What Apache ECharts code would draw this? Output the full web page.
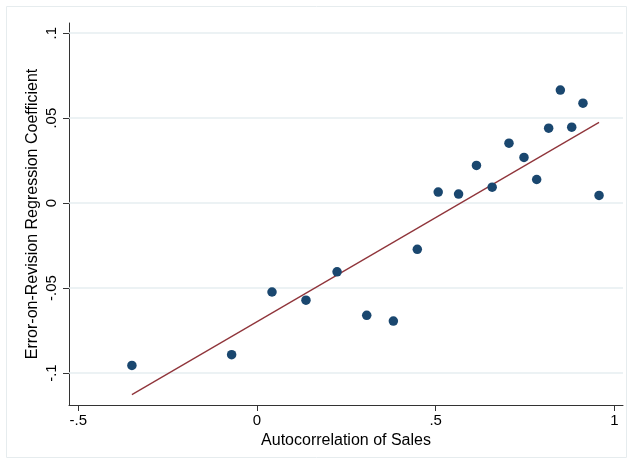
<!DOCTYPE html>
<html>
<head>
<meta charset="utf-8">
<script src="https://cdn.jsdelivr.net/npm/echarts@6/dist/echarts.min.js"></script>
<style>html,body{margin:0;padding:0;background:#fff}#c{width:633px;height:464px}</style>
</head>
<body>
<div id="c"></div>
<script>
// Scatter points: autocorrelation of sales (x) vs error-on-revision coefficient (y)
const autocorr = [-0.35, -0.071, 0.042, 0.137, 0.224, 0.307, 0.3815, 0.4485, 0.507, 0.564,
                  0.614, 0.658, 0.705, 0.747, 0.7825, 0.816, 0.8487, 0.8805, 0.912, 0.957];
const coef = [-0.0955, -0.0892, -0.0523, -0.0571, -0.0404, -0.066, -0.0694, -0.0272, 0.0065, 0.0053,
              0.0222, 0.0094, 0.0353, 0.0269, 0.0139, 0.0441, 0.0665, 0.0447, 0.0588, 0.0045];
// Fitted line endpoints
const fitX = [-0.35, 0.957];
const fitY = [-0.1127, 0.0475];
// Ticks
const xTicks = [-0.5, 0, 0.5, 1];
const xTickLabels = ['-.5', '0', '.5', '1'];
const yTicks = [-0.1, -0.05, 0, 0.05, 0.1];
const yTickLabels = ['-.1', '-.05', '0', '.05', '.1'];

function lab(ticks, labels) {
  return function (v) {
    for (let i = 0; i < ticks.length; i++) if (Math.abs(ticks[i] - v) < 1e-9) return labels[i];
    return '';
  };
}

const chart = echarts.init(document.getElementById('c'), null, {renderer: 'canvas'});
const font = 'Liberation Sans, Arial, sans-serif';
chart.setOption({
  animation: false,
  backgroundColor: '#ffffff',
  grid: {left: 69, right: 10, top: 23, bottom: 59, containLabel: false},
  graphic: [{
    type: 'rect', shape: {x: 6.5, y: 6.5, width: 620, height: 451},
    style: {fill: 'none', stroke: '#e6ecee', lineWidth: 1}, silent: true, z: -10
  }],
  xAxis: {
    type: 'value', min: -0.526, max: 1.024,
    name: 'Autocorrelation of Sales', nameLocation: 'middle', nameGap: 26,
    nameTextStyle: {fontFamily: font, fontSize: 16, color: '#000'},
    axisLine: {show: true, onZero: false, lineStyle: {color: '#333', width: 1}},
    axisTick: {show: true, length: 6, lineStyle: {color: '#333'}, customValues: xTicks},
    axisLabel: {customValues: xTicks, formatter: lab(xTicks, xTickLabels), fontFamily: font, fontSize: 15, color: '#000', margin: 8},
    splitLine: {show: false}
  },
  yAxis: {
    type: 'value', min: -0.1188, max: 0.106,
    name: 'Error-on-Revision Regression Coefficient', nameLocation: 'middle', nameGap: 28, nameRotate: 90,
    nameMoveOverlap: false,
    nameTextStyle: {fontFamily: font, fontSize: 16, color: '#000'},
    axisLine: {show: true, onZero: false, lineStyle: {color: '#333', width: 1}},
    axisTick: {show: true, length: 6, lineStyle: {color: '#333'}, customValues: yTicks},
    axisLabel: {customValues: yTicks, formatter: lab(yTicks, yTickLabels), rotate: 90, fontFamily: font, fontSize: 15, color: '#000', margin: 10},
    splitLine: {show: false}
  },
  series: [
    {
      type: 'scatter', symbol: 'circle', symbolSize: 9.5,
      itemStyle: {color: '#1a476f', opacity: 1},
      emphasis: {disabled: true},
      data: autocorr.map((x, i) => [x, coef[i]]), z: 3,
      markLine: {
        silent: true, symbol: 'none', label: {show: false}, z: 1,
        emphasis: {disabled: true},
        lineStyle: {color: '#e6eef0', width: 1.5, type: 'solid', opacity: 1},
        data: yTicks.map(v => ({yAxis: v}))
      }
    },
    {
      type: 'line', symbol: 'none', lineStyle: {color: '#90353b', width: 1.3},
      data: fitX.map((x, i) => [x, fitY[i]]), z: 2
    }
  ]
});
</script>
</body>
</html>
